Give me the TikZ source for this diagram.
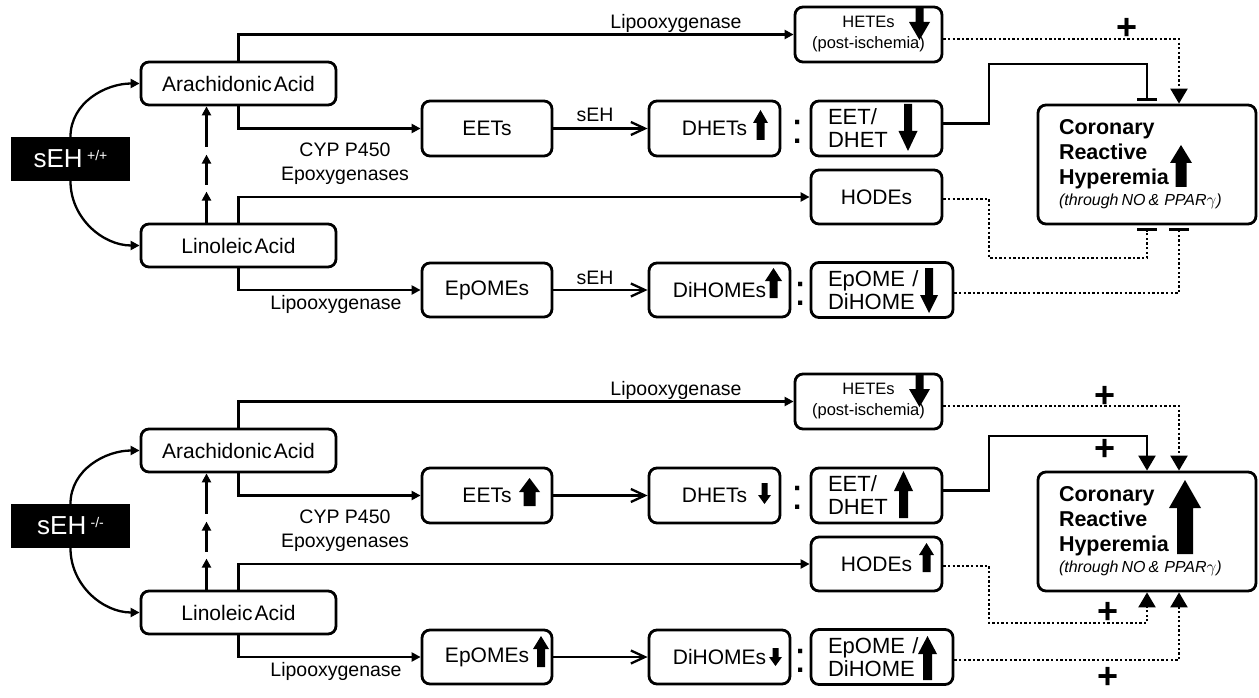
\documentclass[tikz,border=0pt]{standalone}
\usepackage{fontspec}
\setmainfont{Liberation Sans}
\usetikzlibrary{arrows.meta, positioning, calc}

% block arrows drawn inside the boxes: x, tip/tail y, shaft width, head width, head length
\newcommand{\blkup}[6]{%
  \fill ({#1-#4/2},#3) -- ({#1-#4/2},{#2+#6}) -- ({#1-#5/2},{#2+#6}) -- (#1,#2)
    -- ({#1+#5/2},{#2+#6}) -- ({#1+#4/2},{#2+#6}) -- ({#1+#4/2},#3) -- cycle;}
\newcommand{\blkdown}[6]{%
  \fill ({#1-#4/2},#2) -- ({#1-#4/2},{#3-#6}) -- ({#1-#5/2},{#3-#6}) -- (#1,#3)
    -- ({#1+#5/2},{#3-#6}) -- ({#1+#4/2},{#3-#6}) -- ({#1+#4/2},#2) -- cycle;}
\newcommand{\crhtext}{Coronary\\Reactive\\Hyperemia\\[-4pt]%
  {\fontsize{16}{18}\selectfont\mdseries\itshape (through\hspace{3pt}NO\hspace{3pt}\&\hspace{5pt}PPAR$\gamma$)}}

\begin{document}
\begin{tikzpicture}[x=1pt, y=-1pt,
    box/.style = {draw, rounded corners=8pt, line width=2.8pt, inner sep=0pt,
      align=center, font=\fontsize{21}{23}\selectfont},
    ratio/.style = {box, align=left, inner xsep=17pt, minimum height=55pt,
      font=\fontsize{22}{23}\selectfont},
    acid/.style = {box, minimum width=195pt, minimum height=43pt},
    gene/.style = {fill=black, text=white, minimum width=119pt, minimum height=44pt,
      font=\fontsize{26}{28}\selectfont},
    enz/.style = {font=\fontsize{19.5}{24}\selectfont, align=center},
    plus/.style = {font=\fontsize{36}{36}\selectfont\bfseries, inner sep=0pt},
    colon/.style = {font=\fontsize{44}{44}\selectfont, inner sep=0pt},
    crh/.style = {box, align=left, text width=176pt, inner xsep=21pt, minimum height=119pt,
      font=\fontsize{21.5}{25}\selectfont\bfseries},
    hete/.style = {box, minimum width=147pt, minimum height=55pt,
      font=\fontsize{16.5}{21}\selectfont},
    line/.style = {draw, line width=2.3pt, -{Triangle[length=9pt,width=9pt]}},
    conv/.style = {draw, line width=2.3pt, -{Straight Barb[length=14pt,width=13pt]}},
    fx/.style = {draw, line width=2.3pt},
    dots/.style = {fx, dash pattern=on 2.3pt off 2.3pt},
    act/.style = {-{Triangle[length=15pt,width=17pt]}},
    inh/.style = {-{Bar[width=20pt,line width=3pt]}, shorten >=3pt}]

  \useasboundingbox (0,0) rectangle (1259,698);

  % ---- sEH +/+ ----
  \node[gene] (wt) at (70.5,159) {sEH\,\raisebox{7pt}{\fontsize{14}{14}\selectfont +/+}};
  \node[acid] (aa1) at (238.5,83.5) {Arachidonic\hspace{2pt}Acid};
  \node[acid] (la1) at (238.5,245.5) {Linoleic\hspace{2pt}Acid};

  \node[hete] (hetes1) at (868.5,34.5) {HETEs\\(post-ischemia)};
  \node[box, minimum width=130pt, minimum height=55pt] (eets1) at (487,128.5) {EETs};
  \node[box, minimum width=131pt, minimum height=55pt] (dhets1) at (714.5,128.5) {DHETs};
  \node[ratio, text width=97pt] (r1) at (876.5,128.5) {EET/\\DHET};
  \node[box, minimum width=131pt, minimum height=54pt] (hodes1) at (876.5,197) {HODEs};
  \node[box, minimum width=130pt, minimum height=54pt] (epomes1) at (487,290) {EpOMEs};
  \node[box, minimum width=141pt, minimum height=54pt] (dihomes1) at (719.5,290) {DiHOMEs};
  \node[ratio, text width=108pt] (r2) at (882,290) {EpOME /\\DiHOME};
  \node[crh] (crh1) at (1147,164.5) {\crhtext};

  \node[colon] (c1) at (798,131.5) {:};
  \node[colon] (c2) at (801,293.5) {:};

  \node[enz] (lox1) at (676,23) {Lipooxygenase};
  \node[enz] (cyp1) at (345,164) {CYP P450\\Epoxygenases};
  \node[enz] (lox2) at (336,304) {Lipooxygenase};
  \node[enz] (seh1) at (595,115) {sEH};
  \node[enz] (seh2) at (595,278) {sEH};

  \draw[line] (wt.north) to[out=90,in=180] (aa1.west);
  \draw[line] (wt.south) to[out=-90,in=180] (la1.west);
  \draw[line] ($(la1.north)+(-32,0)$) -- ++(0,-31);
  \draw[line] ($(la1.north)+(-32,-38)$) -- ++(0,-30);
  \draw[line] ($(la1.north)+(-32,-76)$) -- ($(aa1.south)+(-32,0)$);

  \draw[line] (aa1.north) |- (hetes1.west);
  \draw[line] (aa1.south) |- (eets1.west);
  \draw[line] (la1.north) |- (hodes1.west);
  \draw[line] (la1.south) |- (epomes1.west);
  \draw[conv] (eets1) -- (dhets1);
  \draw[conv] (epomes1) -- (dihomes1);

  \draw[dots, act] ([yshift=-4.5pt]hetes1.east) -| ($(crh1.north)+(32,0)$);
  \node[plus] (p1) at (1127,29) {+};
  \draw[fx, inh] ([yshift=5pt]r1.east) -| (989,64) -| (crh1.north);
  \draw[dots, inh] ([yshift=-2pt]hodes1.east) -| (989,258) -| (crh1.south);
  \draw[dots, inh] ([yshift=-3pt]r2.east) -| ($(crh1.south)+(32,0)$);

  \blkdown{919.5}{7}{40}{8}{21}{18}
  \blkup{760.5}{110}{140}{8}{15}{13}
  \blkdown{908}{104}{151}{8}{19}{20}
  \blkup{1181}{145}{187}{11}{22}{18}
  \blkup{773.5}{268}{298}{8}{17}{13}
  \blkdown{929}{268}{313}{8}{18}{18}

  % ---- sEH -/- ----
  \begin{scope}[shift={(0,367)}]
  \node[gene] (ko) at (70.5,159) {sEH\,\raisebox{7pt}{\fontsize{14}{14}\selectfont -/-}};
  \node[acid] (aa2) at (238.5,83.5) {Arachidonic\hspace{2pt}Acid};
  \node[acid] (la2) at (238.5,245.5) {Linoleic\hspace{2pt}Acid};

  \node[hete] (hetes2) at (868.5,34.5) {HETEs\\(post-ischemia)};
  \node[box, minimum width=130pt, minimum height=55pt] (eets2) at (487,128.5) {EETs};
  \node[box, minimum width=131pt, minimum height=55pt] (dhets2) at (714.5,128.5) {DHETs};
  \node[ratio, text width=97pt] (r3) at (876.5,128.5) {EET/\\DHET};
  \node[box, minimum width=131pt, minimum height=54pt] (hodes2) at (876.5,197) {HODEs};
  \node[box, minimum width=130pt, minimum height=54pt] (epomes2) at (487,290) {EpOMEs};
  \node[box, minimum width=141pt, minimum height=54pt] (dihomes2) at (719.5,290) {DiHOMEs};
  \node[ratio, text width=108pt] (r4) at (882,290) {EpOME /\\DiHOME};
  \node[crh] (crh2) at (1147,164.5) {\crhtext};

  \node[colon] (c3) at (798,131) {:};
  \node[colon] (c4) at (801,293.5) {:};

  \node[enz] (lox3) at (676,23) {Lipooxygenase};
  \node[enz] (cyp2) at (345,164) {CYP P450\\Epoxygenases};
  \node[enz] (lox4) at (336,304) {Lipooxygenase};

  \draw[line] (ko.north) to[out=90,in=180] (aa2.west);
  \draw[line] (ko.south) to[out=-90,in=180] (la2.west);
  \draw[line] ($(la2.north)+(-32,0)$) -- ++(0,-31);
  \draw[line] ($(la2.north)+(-32,-38)$) -- ++(0,-30);
  \draw[line] ($(la2.north)+(-32,-76)$) -- ($(aa2.south)+(-32,0)$);

  \draw[line] (aa2.north) |- (hetes2.west);
  \draw[line] (aa2.south) |- (eets2.west);
  \draw[line] (la2.north) |- (hodes2.west);
  \draw[line] (la2.south) |- (epomes2.west);
  \draw[conv] (eets2) -- (dhets2);
  \draw[conv] (epomes2) -- (dihomes2);

  \draw[dots, act] ([yshift=-4.5pt]hetes2.east) -| ($(crh2.north)+(32,0)$);
  \node[plus] (p2) at (1105,30) {+};
  \draw[fx, act] ([yshift=5pt]r3.east) -| (989,69) -| (crh2.north);
  \node[plus] (p3) at (1105,83) {+};
  \draw[dots, act] ([yshift=-2pt]hodes2.east) -| (989,256) -| (crh2.south);
  \node[plus] (p4) at (1108,246) {+};
  \draw[dots, act] ([yshift=-3pt]r4.east) -| ($(crh2.south)+(32,0)$);
  \node[plus] (p5) at (1108,311) {+};

  \blkdown{919.5}{7}{40}{8}{21}{18}
  \blkup{529.5}{111}{139}{12}{21}{14}
  \blkdown{764.5}{116}{137}{6}{13}{9}
  \blkup{903.5}{104}{151}{9}{19}{20}
  \blkup{926.5}{176}{205}{8}{15}{12}
  \blkup{1185}{113}{187}{16}{32}{28}
  \blkup{541}{269}{300}{8}{16}{13}
  \blkdown{775.5}{281}{299}{6}{13}{9}
  \blkup{927.5}{269}{313}{9}{19}{18}
  \end{scope}
\end{tikzpicture}
\end{document}
